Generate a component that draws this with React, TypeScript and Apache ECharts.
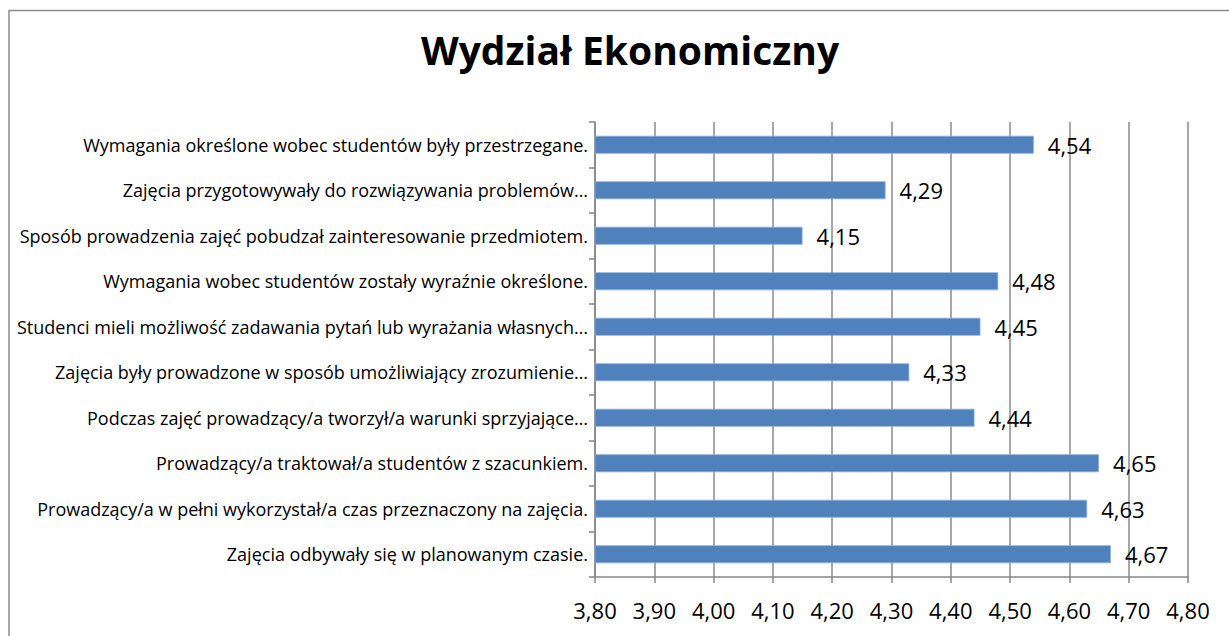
import React, { useEffect, useRef } from "react";
import * as echarts from "echarts";

const categories = [
  "Zajęcia odbywały się w planowanym czasie.",
  "Prowadzący/a w pełni wykorzystał/a czas przeznaczony na zajęcia.",
  "Prowadzący/a traktował/a studentów z szacunkiem.",
  "Podczas zajęć prowadzący/a tworzył/a warunki sprzyjające…",
  "Zajęcia były prowadzone w sposób umożliwiający zrozumienie…",
  "Studenci mieli możliwość zadawania pytań lub wyrażania własnych…",
  "Wymagania wobec studentów zostały wyraźnie określone.",
  "Sposób prowadzenia zajęć pobudzał zainteresowanie przedmiotem.",
  "Zajęcia przygotowywały do rozwiązywania problemów…",
  "Wymagania określone wobec studentów były przestrzegane.",
];
const values = [4.67, 4.63, 4.65, 4.44, 4.33, 4.45, 4.48, 4.15, 4.29, 4.54];
const title = "Wydział Ekonomiczny";
const axisMin = 3.8;
const axisMax = 4.8;
const axisStep = 0.1;

const FONT = "'Open Sans', Lato, sans-serif";
const fmt = (v: number) => v.toFixed(2).replace(".", ",");

export default function App() {
  const ref = useRef<HTMLDivElement>(null);
  useEffect(() => {
    if (!ref.current) return;
    const chart = echarts.init(ref.current, undefined, { renderer: "svg" });
    chart.setOption({
      animation: false,
      backgroundColor: "#ffffff",
      title: {
        text: title,
        left: 625,
        top: 25,
        textAlign: "center",
        textStyle: { fontFamily: FONT, fontWeight: "bold", fontSize: 39, color: "#000" },
      },
      graphic: [
        {
          type: "rect",
          shape: { x: 9, y: 10.5, width: 1300, height: 700 },
          style: { fill: "none", stroke: "#8c8c8c", lineWidth: 1.5 },
          silent: true,
        },
      ],
      grid: { left: 595, right: 41, top: 122, bottom: 59, containLabel: false },
      xAxis: {
        type: "value",
        min: axisMin,
        max: axisMax,
        interval: axisStep,
        axisLine: { show: true, lineStyle: { color: "#868686", width: 1.5 } },
        axisTick: { show: true, length: 6, lineStyle: { color: "#868686", width: 1.5 } },
        splitLine: { show: true, lineStyle: { color: "#8a8a8a", width: 1.5 } },
        axisLabel: {
          margin: 22,
          fontFamily: FONT,
          fontSize: 22,
          color: "#000",
          formatter: (v: number) => fmt(v),
        },
      },
      yAxis: {
        type: "category",
        data: categories,
        axisLine: { show: true, lineStyle: { color: "#868686", width: 1.5 } },
        axisTick: { show: true, length: 6, lineStyle: { color: "#868686", width: 1.5 } },
        axisLabel: { margin: 7, fontFamily: FONT, fontSize: 18, color: "#000" },
      },
      series: [
        {
          type: "bar",
          data: values,
          barWidth: 18,
          itemStyle: { color: "#4F81BD", borderColor: "#8eaedb", borderWidth: 0.8 },
          label: {
            show: true,
            position: "right",
            distance: 14,
            fontFamily: FONT,
            fontSize: 22,
            color: "#000",
            formatter: (p: any) => fmt(p.value),
          },
        },
      ],
    });
    return () => chart.dispose();
  }, []);
  return (
    <div
      ref={ref}
      style={{ position: "absolute", left: 0, top: 0, width: 1229, height: 636 }}
    />
  );
}
